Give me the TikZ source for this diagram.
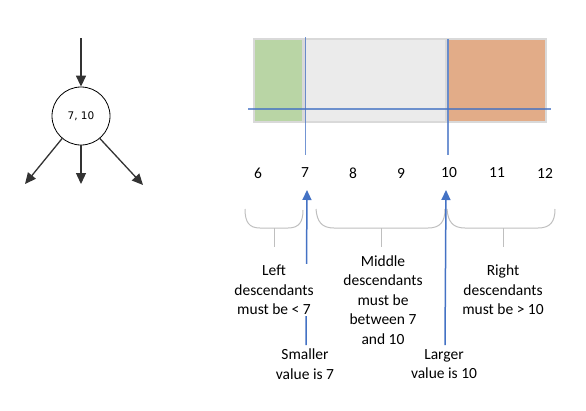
\documentclass[tikz,border=0pt]{standalone}
\usepackage{fontspec}
\setmainfont{Carlito}
\newfontfamily\circfont{DejaVu Sans}
\usetikzlibrary{arrows.meta}
\definecolor{ablue}{HTML}{4472C4}
\definecolor{gfill}{HTML}{B9D5A5}
\definecolor{efill}{HTML}{EBEBEB}
\definecolor{ofill}{HTML}{E2AC88}
\definecolor{bord}{HTML}{D9D9D9}
\definecolor{brc}{HTML}{BFBFBF}
\definecolor{tree}{HTML}{333333}
\tikzset{
  treearrow/.style={draw=tree, line width=1.3pt, -{Triangle[length=11pt,width=10pt]}},
  region/.style={draw=bord, line width=1.5pt},
  guide/.style={draw=ablue, draw opacity=0.75, line width=1.5pt},
  ptr/.style={draw=ablue, line width=1.5pt, -{Triangle[length=10pt,width=9pt]}},
  brace/.style={draw=brc, line width=1pt},
  lbl/.style={font=\fontsize{15.5}{19.5}\selectfont, align=center, inner sep=1pt, fill=white},
  num/.style={font=\fontsize{15.5}{18}\selectfont, inner sep=0pt},
}
\begin{document}
\begin{tikzpicture}[x=1pt,y=-1pt]
\useasboundingbox (0,0) rectangle (586,410);
% tree
\node[draw=black, line width=0.8pt, circle, minimum size=58pt, inner sep=0pt, font=\circfont\fontsize{10.5}{12}\selectfont] (c) at (81,116) {7, 10};
\coordinate (top) at (81,38);
\coordinate (cl) at (25,184);
\coordinate (cm) at (81,184);
\coordinate (cr) at (143,185);
\draw[treearrow] (top) -- (c.north);
\draw[treearrow] (c.-130) -- (cl);
\draw[treearrow] (c.south) -- (cm);
\draw[treearrow] (c.-50) -- (cr);
% regions
\fill[gfill] (254,39) rectangle (303,122);
\draw[region] (254,39) rectangle (303,122);
\fill[efill] (305,39) rectangle (446,122);
\draw[region] (305,39) rectangle (446,122);
\fill[ofill] (448,39) rectangle (546,122);
\draw[region] (448,39) rectangle (546,122);
\coordinate (hl) at (248,109);
\coordinate (hr) at (551,109);
\draw[guide] (hl) -- (hr);
\coordinate (v7t) at (305.5,37);
\coordinate (v7b) at (305.5,155);
\coordinate (v10t) at (448,39);
\coordinate (v10b) at (448,155);
\draw[guide] (v7t) -- (v7b);
\draw[guide] (v10t) -- (v10b);
% numbers
\node[num] (n6) at (258,173) {6};
\node[num] (n7) at (305,173) {7};
\node[num] (n8) at (353,173) {8};
\node[num] (n9) at (401,173) {9};
\node[num] (n10) at (449,173) {10};
\node[num] (n11) at (497,173) {11};
\node[num] (n12) at (545,173) {12};
% braces
\draw[brace] (245,209) .. controls (245,222) and (249,228) .. (260,228) -- (288,228) .. controls (299,228) and (303,222) .. (303,210);
\draw[brace] (274,228) -- (274,247);
\draw[brace] (316,209) .. controls (317,222) and (322,228) .. (334,228) -- (428,228) .. controls (440,228) and (445,222) .. (445,209);
\draw[brace] (381,228) -- (381,247);
\draw[brace] (447,209) .. controls (448,222) and (453,228) .. (465,228) -- (538,228) .. controls (550,228) and (555,222) .. (555,209);
\draw[brace] (503,228) -- (503,247);
% pointers
\coordinate (p7b) at (306,345);
\coordinate (p7t) at (307,190);
\coordinate (p10b) at (445,345);
\coordinate (p10t) at (446,190);
\draw[ptr] (p7b) -- (p7t);
\draw[ptr] (p10b) -- (p10t);
% labels
\node[lbl] (ll) at (274,290) {Left\\descendants\\must be < 7};
\node[lbl] (ml) at (383,300) {Middle\\descendants\\must be\\between 7\\and 10};
\node[lbl] (rl) at (503,290) {Right\\descendants\\must be > 10};
\node[lbl] (sl) at (305,364) {Smaller\\value is 7};
\node[lbl] (gl) at (444,364) {Larger\\value is 10};
\end{tikzpicture}
\end{document}
